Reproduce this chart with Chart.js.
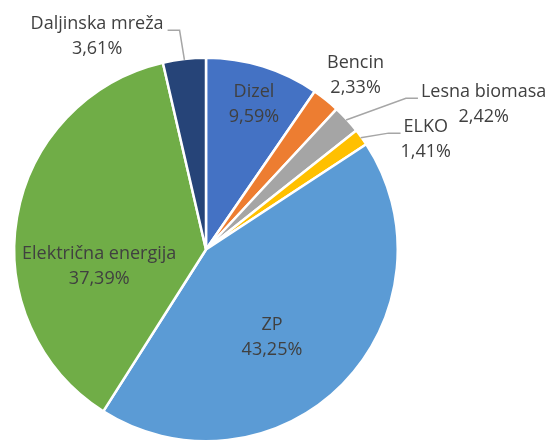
<!DOCTYPE html>
<html>
<head>
<meta charset="utf-8">
<script src="https://cdn.jsdelivr.net/npm/chart.js@4.4.1/dist/chart.umd.min.js"></script>
<style>
  html, body { margin: 0; padding: 0; background: #fff; }
  #wrap { width: 550px; height: 443px; }
</style>
</head>
<body>
<div id="wrap"><canvas id="pie" width="550" height="443"></canvas></div>
<script>
// Deleži porabe energije po virih
const viri = ['Dizel', 'Bencin', 'Lesna biomasa', 'ELKO', 'ZP', 'Električna energija', 'Daljinska mreža'];
const delezi = [9.59, 2.33, 2.42, 1.41, 43.25, 37.39, 3.61];
const barve = ['#4472C4', '#ED7D31', '#A5A5A5', '#FFC000', '#5B9BD5', '#70AD47', '#264478'];

// Položaj oznak glede na središče (v enotah polmera) in ali ima oznaka črto
const oznake = [
    { x: 0.25, y: -0.755, crta: false },
    { x: 0.78, y: -0.91, crta: false },
    { x: 1.448, y: -0.755, crta: true },
    { x: 1.146, y: -0.573, crta: true },
    { x: 0.344, y: 0.458, crta: false },
    { x: -0.557, y: 0.089, crta: false },
    { x: -0.568, y: -1.109, crta: true }
];

const FONT = '18px "Open Sans", sans-serif';
const VRSTICA = 25;

const odstotek = v => v.toFixed(2).replace('.', ',') + '%';

const oznakePlugin = {
    id: 'oznake',
    afterDatasetsDraw(chart) {
        const ctx = chart.ctx;
        const meta = chart.getDatasetMeta(0);
        ctx.save();
        ctx.font = FONT;
        ctx.textAlign = 'center';
        ctx.textBaseline = 'middle';
        meta.data.forEach((arc, i) => {
            const { x: cx, y: cy, outerRadius: r, startAngle, endAngle } = arc.getProps(['x', 'y', 'outerRadius', 'startAngle', 'endAngle'], true);
            const poz = oznake[i];
            const lx = cx + poz.x * r;
            const ly = cy + poz.y * r;
            const y1 = ly - VRSTICA / 2;
            const y2 = ly + VRSTICA / 2;

            if (poz.crta) {
                const sr = (startAngle + endAngle) / 2;
                const ax = cx + Math.cos(sr) * (r - 1);
                const ay = cy + Math.sin(sr) * (r - 1);
                const sirina = ctx.measureText(viri[i]).width;
                const levo = lx < cx;
                const rob = levo ? lx + sirina / 2 + 4 : lx - sirina / 2 - 3;
                const koleno = levo ? rob + 12 : rob - 12;
                const yc = y1 + 6;
                ctx.strokeStyle = '#A6A6A6';
                ctx.lineWidth = 1.5;
                ctx.beginPath();
                ctx.moveTo(rob, yc);
                ctx.lineTo(koleno, yc);
                ctx.lineTo(ax, ay);
                ctx.stroke();
            }

            ctx.fillStyle = '#404040';
            ctx.fillText(viri[i], lx, y1);
            ctx.fillText(odstotek(delezi[i]), lx, y2);
        });
        ctx.restore();
    }
};

new Chart(document.getElementById('pie'), {
    type: 'pie',
    data: {
        labels: viri,
        datasets: [{
            data: delezi,
            backgroundColor: barve,
            borderColor: '#ffffff',
            borderWidth: 2.5
        }]
    },
    options: {
        responsive: false,
        animation: false,
        layout: { padding: { left: 13, right: 151, top: 56, bottom: 0 } },
        plugins: {
            legend: { display: false },
            tooltip: { enabled: false }
        }
    },
    plugins: [oznakePlugin]
});
</script>
</body>
</html>
